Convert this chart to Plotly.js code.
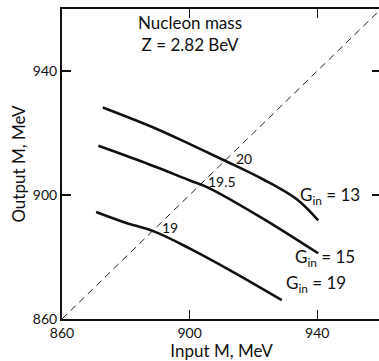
<!DOCTYPE html>
<html><head><meta charset="utf-8">
<script src="https://cdn.plot.ly/plotly-3.0.1.min.js"></script>
<style>html,body{margin:0;padding:0;overflow:hidden;background:#fff}</style>
</head><body><div id="chart"></div>
<script>
// Input M (MeV) and Output M (MeV) for each G_in curve
const g13X = [872.8, 889.7, 900.1, 910.6, 923.1, 933.6, 940.3];
const g13Y = [928.2, 921.3, 916.4, 911.3, 905.0, 898.6, 891.8];
const g15X = [871.4, 885.0, 900.1, 905.8, 923.0, 940.3];
const g15Y = [915.9, 910.8, 904.7, 902.4, 892.4, 881.2];
const g19X = [870.7, 879.2, 889.2, 900.1, 912.7, 928.9];
const g19Y = [894.5, 891.3, 888.1, 882.7, 875.7, 866.1];
const diagX = [860, 960];
const diagY = [860, 960];
const tickVals = [860, 900, 940];
const tickText = ["860", "900", "940"];
const curveLabels = ["G<sub>in</sub> = 13", "G<sub>in</sub> = 15", "G<sub>in</sub> = 19"];
const crossLabels = ["20", "19.5", "19"];

const FONT = "Lato, 'DejaVu Sans', sans-serif";
const line = {color: "#111", width: 2.6, shape: "spline", smoothing: 1};
const traces = [
  {x: diagX, y: diagY, mode: "lines", line: {color: "#222", width: 1, dash: "7px,5px"}},
  {x: g13X, y: g13Y, mode: "lines", line: line},
  {x: g15X, y: g15Y, mode: "lines", line: line},
  {x: g19X, y: g19Y, mode: "lines", line: line}
].map(t => Object.assign(t, {type: "scatter", showlegend: false, hoverinfo: "skip"}));

const ann = (x, y, text, size, xanchor) => ({x, y, text, showarrow: false, xref: "x", yref: "y",
  font: {family: FONT, size: size, color: "#111"}, xanchor: xanchor || "center", yanchor: "middle"});

const annotations = [
  ann(900, 952.1, "Nucleon mass<br>Z = 2.82 BeV", 17),
  ann(934.0, 899.7, curveLabels[0], 17, "left"),
  ann(932.3, 879.8, curveLabels[1], 17, "left"),
  ann(929.5, 871.2, curveLabels[2], 17, "left"),
  ann(914.0, 911.8, crossLabels[0], 14, "left"),
  ann(905.2, 904.2, crossLabels[1], 14, "left"),
  ann(890.8, 889.5, crossLabels[2], 14, "left")
];

const axisBase = {
  range: [860, 960], tickvals: tickVals, ticktext: tickText, ticks: "inside", ticklen: 9,
  tickwidth: 1.2, tickcolor: "#111", showline: true, linecolor: "#111", linewidth: 2,
  mirror: "ticks", showgrid: false, zeroline: false, fixedrange: true,
  tickfont: {family: FONT, size: 14, color: "#111"}
};

const layout = {
  width: 383, height: 361,
  margin: {l: 62, r: 2, t: 9, b: 42},
  paper_bgcolor: "#fff", plot_bgcolor: "#fff",
  xaxis: Object.assign({}, axisBase, {title: {text: "Input M, MeV", font: {family: FONT, size: 17, color: "#111"}, standoff: 5}}),
  yaxis: Object.assign({}, axisBase, {title: {text: "Output M, MeV", font: {family: FONT, size: 17, color: "#111"}, standoff: 3}}),
  annotations: annotations
};
Plotly.newPlot("chart", traces, layout, {displayModeBar: false, staticPlot: true});
</script></body></html>
